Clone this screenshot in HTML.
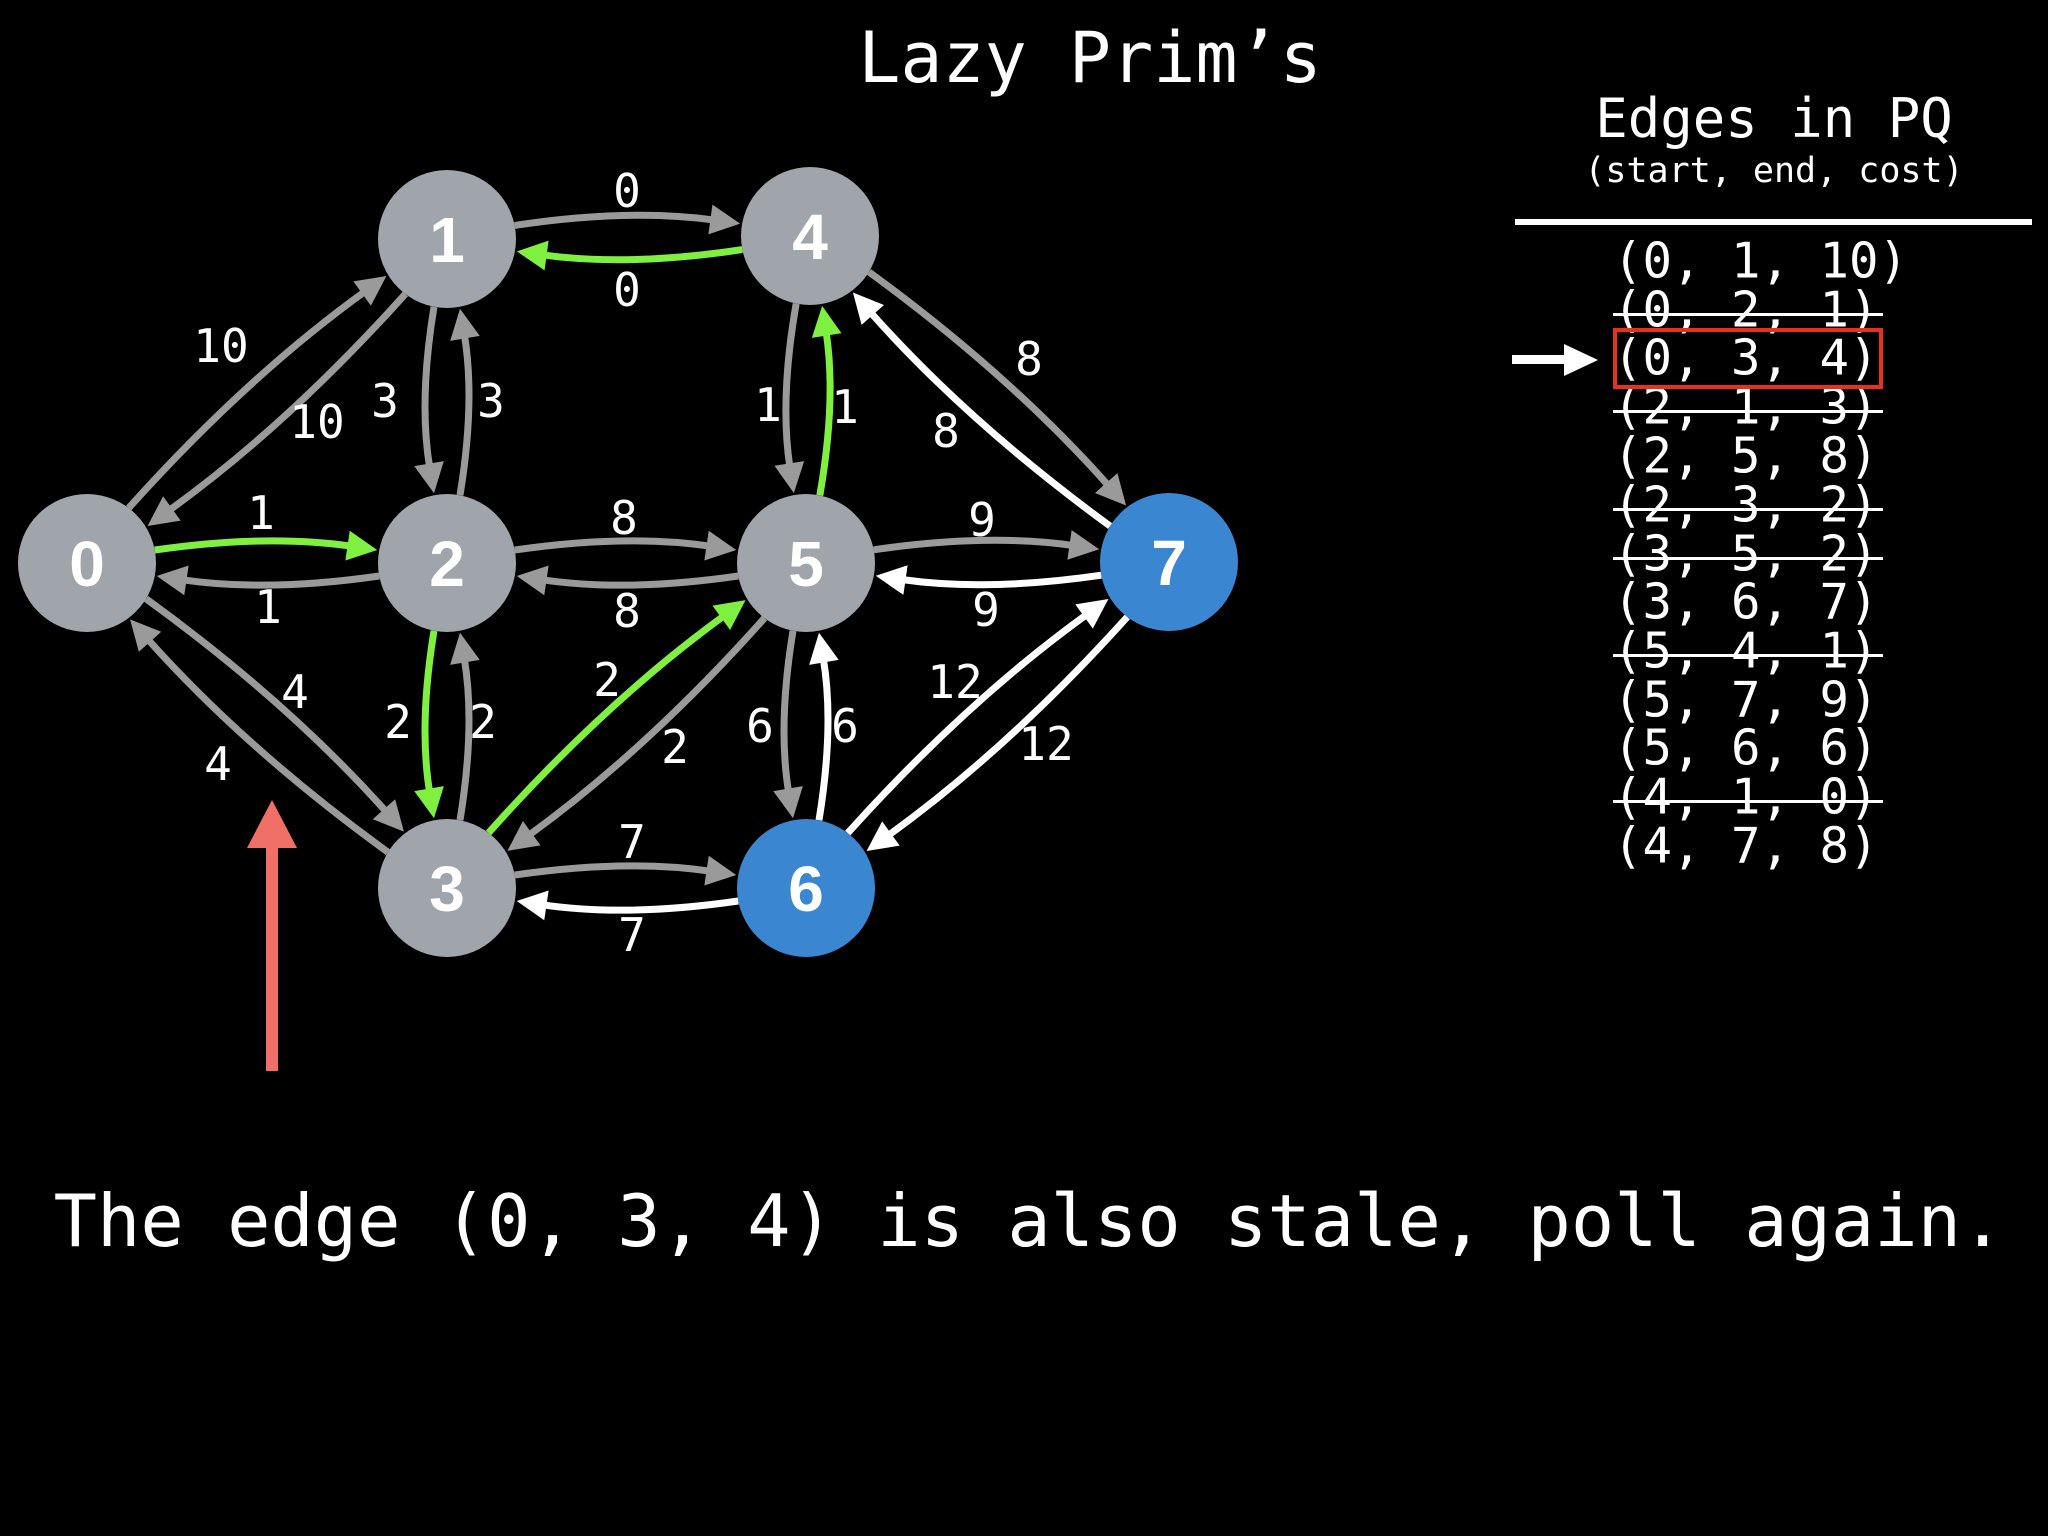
<!DOCTYPE html>
<html><head><meta charset="utf-8"><style>
html,body{margin:0;padding:0;background:#000;}
svg{display:block}
.m{font-family:"DejaVu Sans Mono","Liberation Mono",monospace;fill:#fff}
.n{font-family:"Liberation Sans",sans-serif;font-weight:bold;fill:#fff;font-size:64px}
</style></head><body>
<svg id="s" width="2048" height="1536" viewBox="0 0 2048 1536" xmlns="http://www.w3.org/2000/svg">
<rect width="2048" height="1536" fill="#000"/>
<text class="m" x="1090" y="82" font-size="70" text-anchor="middle">Lazy Prim’s</text>
<g id="edges"></g>
<g id="nodes"></g>
<g class="m" font-size="46" text-anchor="middle" dominant-baseline="central">
<text x="221" y="346">10</text><text x="317" y="422">10</text>
<text x="261" y="513">1</text><text x="268" y="607">1</text>
<text x="385" y="401">3</text><text x="491" y="401">3</text>
<text x="627" y="191">0</text><text x="627" y="290">0</text>
<text x="295" y="692">4</text><text x="218" y="764">4</text>
<text x="398" y="722">2</text><text x="483" y="722">2</text>
<text x="624" y="518">8</text><text x="627" y="611">8</text>
<text x="768" y="405">1</text><text x="845" y="407">1</text>
<text x="1029" y="359">8</text><text x="946" y="431">8</text>
<text x="607" y="680">2</text><text x="675" y="747">2</text>
<text x="982" y="520">9</text><text x="986" y="610">9</text>
<text x="760" y="726">6</text><text x="845" y="726">6</text>
<text x="955" y="682">12</text><text x="1046" y="744">12</text>
<text x="632" y="842">7</text><text x="632" y="935">7</text>
</g>
<rect x="266" y="840" width="12" height="231" fill="#f07067"/>
<polygon points="272,800 247,848 297,848" fill="#f07067"/>
<text class="m" x="1774" y="137" font-size="54" text-anchor="middle">Edges in PQ</text>
<text class="m" x="1774" y="182" font-size="35" text-anchor="middle">(start, end, cost)</text>
<rect x="1515" y="219" width="517" height="6" fill="#fff"/>
<g class="m" font-size="49" dominant-baseline="central">
<text x="1613" y="261">(0, 1, 10)</text>
<text x="1613" y="310">(0, 2, 1)</text>
<text x="1613" y="358">(0, 3, 4)</text>
<text x="1613" y="407">(2, 1, 3)</text>
<text x="1613" y="456">(2, 5, 8)</text>
<text x="1613" y="505">(2, 3, 2)</text>
<text x="1613" y="554">(3, 5, 2)</text>
<text x="1613" y="602">(3, 6, 7)</text>
<text x="1613" y="651">(5, 4, 1)</text>
<text x="1613" y="700">(5, 7, 9)</text>
<text x="1613" y="748">(5, 6, 6)</text>
<text x="1613" y="797">(4, 1, 0)</text>
<text x="1613" y="846">(4, 7, 8)</text>
</g>
<g fill="#fff">
<rect x="1613" y="313" width="270" height="3"/>
<rect x="1613" y="410" width="270" height="3"/>
<rect x="1613" y="508" width="270" height="3"/>
<rect x="1613" y="557" width="270" height="3"/>
<rect x="1613" y="654" width="270" height="3"/>
<rect x="1613" y="800" width="270" height="3"/>
</g>
<rect x="1615" y="330" width="266" height="57" fill="none" stroke="#e8301e" stroke-width="4"/>
<rect x="1512" y="355" width="56" height="9" fill="#fff"/>
<polygon points="1598,360 1564,344 1564,376" fill="#fff"/>
<text class="m" x="1029" y="1246" font-size="72" text-anchor="middle">The edge (0, 3, 4) is also stale, poll again.</text>
</svg>
<script>
(function(){
var N={0:[87,563,'#a0a4ab'],1:[447,239,'#a0a4ab'],2:[447,563,'#a0a4ab'],3:[447,888,'#a0a4ab'],4:[810,236,'#a0a4ab'],5:[806,563,'#a0a4ab'],6:[806,888,'#3a86d0'],7:[1169,562,'#3a86d0']};
var G='#9a9a9a',GR='#80f040',W='#ffffff';
var E=[[0,1,G,1],[1,0,G,1],[0,2,GR,1],[2,0,G,1],[1,2,G,-1],[2,1,G,-1],[1,4,G,1],[4,1,GR,1],[0,3,G,1],[3,0,G,1],[2,3,GR,-1],[3,2,G,-1],[2,5,G,1],[5,2,G,1],[4,5,G,-1],[5,4,GR,-1],[4,7,G,1],[7,4,W,1],[3,5,GR,1],[5,3,G,1],[5,7,G,1],[7,5,W,1],[5,6,G,-1],[6,5,W,-1],[6,7,W,1],[7,6,W,1],[3,6,G,1],[6,3,W,1]];
var R=69,ns='http://www.w3.org/2000/svg',eg=document.getElementById('edges'),ng=document.getElementById('nodes');
E.forEach(function(e){
 var a=N[e[0]],b=N[e[1]],dx=b[0]-a[0],dy=b[1]-a[1],L=Math.hypot(dx,dy),ux=dx/L,uy=dy/L,nx=uy*e[3],ny=-ux*e[3];
 var off=13,k=Math.sqrt(R*R-off*off);
 var sx=a[0]+ux*k+nx*off, sy=a[1]+uy*k+ny*off;
 var tx=b[0]-ux*(k+2)+nx*off, ty=b[1]-uy*(k+2)+ny*off;
 var c=22+L*0.02;
 var cx=(a[0]+b[0])/2+nx*c, cy=(a[1]+b[1])/2+ny*c;
 var ax=tx-cx,ay=ty-cy,al=Math.hypot(ax,ay);ax/=al;ay/=al;
 var hl=30,hw=15;
 var bx=tx-ax*hl,by=ty-ay*hl;
 var p=document.createElementNS(ns,'path');
 p.setAttribute('d','M'+sx+' '+sy+' Q'+cx+' '+cy+' '+(bx+ax*4)+' '+(by+ay*4));
 p.setAttribute('fill','none');p.setAttribute('stroke',e[2]);p.setAttribute('stroke-width','7');
 eg.appendChild(p);
 var h=document.createElementNS(ns,'polygon');
 h.setAttribute('points',tx+','+ty+' '+(bx-ay*hw)+','+(by+ax*hw)+' '+(bx+ay*hw)+','+(by-ax*hw));
 h.setAttribute('fill',e[2]);eg.appendChild(h);
});
Object.keys(N).forEach(function(k){
 var n=N[k],c=document.createElementNS(ns,'circle');
 c.setAttribute('cx',n[0]);c.setAttribute('cy',n[1]);c.setAttribute('r',R);c.setAttribute('fill',n[2]);ng.appendChild(c);
 var t=document.createElementNS(ns,'text');t.setAttribute('class','n');t.setAttribute('x',n[0]);t.setAttribute('y',n[1]+23);t.setAttribute('text-anchor','middle');t.textContent=k;ng.appendChild(t);
});
})();
</script>
</body></html>
